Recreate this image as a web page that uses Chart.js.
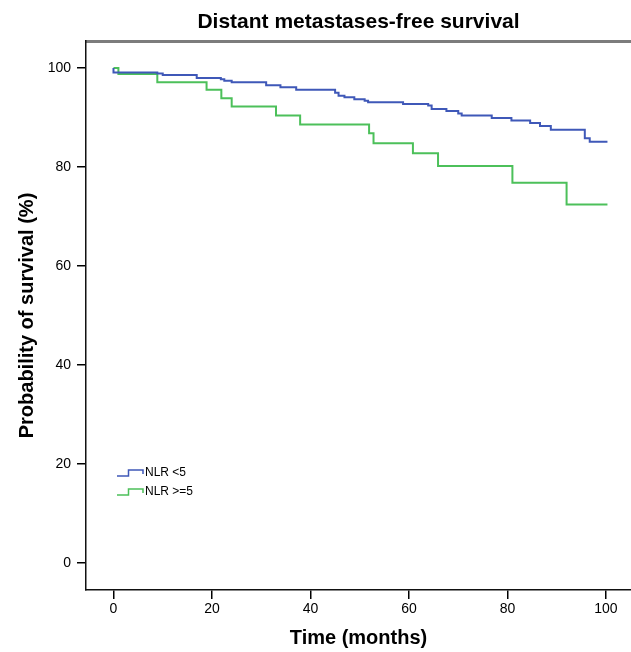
<!DOCTYPE html>
<html>
<head>
<meta charset="utf-8">
<script src="https://cdn.jsdelivr.net/npm/chart.js@4.4.1/dist/chart.umd.min.js"></script>
<style>
  html, body { margin: 0; padding: 0; background: #fff; }
  #wrap { width: 631px; height: 652px; }
</style>
</head>
<body>
<div id="wrap"><canvas id="kmChart" width="631" height="652"></canvas></div>
<script>
// Kaplan-Meier steps (months, % surviving after the step)
const blueTimes = [0, 0, 8.9, 10, 16.9, 21.8, 22.5, 24, 31, 33.9, 37.1, 45, 45.7, 46.9, 48.9, 51, 51.7, 58.8, 63.9, 64.6, 67.6, 70, 70.7, 76.8, 80.8, 84.6, 86.6, 88.8, 95.7, 96.7, 100.3];
const blueSurv  = [100, 99.1, 98.9, 98.6, 98.0, 97.7, 97.4, 97.1, 96.5, 96.1, 95.6, 95.0, 94.4, 94.1, 93.7, 93.4, 93.1, 92.7, 92.4, 91.7, 91.3, 90.8, 90.4, 89.9, 89.4, 88.9, 88.3, 87.5, 85.8, 85.1, 85.1];

const greenTimes = [0, 1, 8.9, 18.9, 21.9, 24, 33, 37.9, 51.9, 52.8, 60.8, 65.9, 81, 92, 100.3];
const greenSurv  = [100, 98.8, 97.1, 95.6, 93.9, 92.2, 90.4, 88.6, 86.8, 84.8, 82.8, 80.2, 76.8, 72.4, 72.4];

const seriesLabels = ['NLR <5', 'NLR >=5'];
const xTicks = [0, 20, 40, 60, 80, 100];
const yTicks = [0, 20, 40, 60, 80, 100];

const FONT = "'Liberation Sans', Arial, Helvetica, sans-serif";
const BLUE = '#3f58b8';
const GREEN = '#4cc05a';

const toPoints = (xs, ys) => xs.map((x, i) => ({ x: x, y: ys[i] }));

// step-shaped legend in the lower left of the plot
const stepLegend = {
    id: 'stepLegend',
    afterDraw(chart) {
        const { ctx, chartArea } = chart;
        const x0 = chartArea.left + 31;
        const y0 = chartArea.top + 432;
        ctx.save();
        chart.data.datasets.forEach((ds, i) => {
            const y = y0 + i * 19;
            ctx.strokeStyle = ds.borderColor;
            ctx.lineWidth = 1.5;
            ctx.beginPath();
            ctx.moveTo(x0, y + 3);
            ctx.lineTo(x0 + 11.5, y + 3);
            ctx.lineTo(x0 + 11.5, y - 3);
            ctx.lineTo(x0 + 26, y - 3);
            ctx.lineTo(x0 + 26, y + 1);
            ctx.stroke();
            ctx.fillStyle = '#000';
            ctx.font = '12px ' + FONT;
            ctx.textBaseline = 'middle';
            ctx.textAlign = 'left';
            ctx.fillText(ds.label, x0 + 28, y);
        });
        ctx.restore();
    },
};

new Chart(document.getElementById('kmChart'), {
    type: 'line',
    data: {
        datasets: [{
            label: seriesLabels[0],
            data: toPoints(blueTimes, blueSurv),
            borderColor: BLUE,
            borderWidth: 2,
            stepped: 'before',
            pointRadius: 0,
            fill: false,
        }, {
            label: seriesLabels[1],
            data: toPoints(greenTimes, greenSurv),
            borderColor: GREEN,
            borderWidth: 2,
            stepped: 'before',
            pointRadius: 0,
            fill: false,
        }],
    },
    options: {
        responsive: false,
        animation: false,
        events: [],
        layout: { padding: 0 },
        plugins: {
            legend: { display: false },
            tooltip: { enabled: false },
            title: { display: false },
        },
        scales: {
            x: {
                type: 'linear',
                position: 'bottom',
                min: -5.58,
                max: 105.08,
                afterBuildTicks: s => { s.ticks = xTicks.map(v => ({ value: v })); },
                afterFit: s => { s.height = 62; },
                ticks: { color: '#000', font: { family: FONT, size: 14 }, padding: 2, maxRotation: 0 },
                grid: { display: true, drawOnChartArea: false, drawTicks: true, tickLength: 9, color: '#000', lineWidth: 1.5 },
                border: { display: true, color: '#111', width: 1.5 },
                title: { display: true, text: 'Time (months)', color: '#000', font: { family: FONT, size: 20, weight: 'bold' }, padding: { top: 0, bottom: 2 } },
            },
            xTop: {
                type: 'linear',
                position: 'top',
                min: -5.58,
                max: 105.08,
                afterFit: s => { s.height = 41; },
                ticks: { display: false },
                grid: { display: false },
                border: { display: true, color: '#7c7c7c', width: 3 },
                title: { display: true, text: 'Distant metastases-free survival', color: '#000', font: { family: FONT, size: 21, weight: 'bold' }, padding: { top: 9.5, bottom: 0 } },
            },
            y: {
                type: 'linear',
                min: -5.45,
                max: 105.45,
                afterBuildTicks: s => { s.ticks = yTicks.map(v => ({ value: v })); },
                afterFit: s => { s.width = 86; },
                ticks: { color: '#000', font: { family: FONT, size: 14 }, padding: 6 },
                grid: { display: true, drawOnChartArea: false, drawTicks: true, tickLength: 9, color: '#000', lineWidth: 1.5 },
                border: { display: true, color: '#111', width: 1.5 },
                title: { display: true, text: 'Probability of survival (%)', color: '#000', font: { family: FONT, size: 20, weight: 'bold' }, padding: { top: 15, bottom: 0 } },
            },
        },
    },
    plugins: [stepLegend],
});
</script>
</body>
</html>
